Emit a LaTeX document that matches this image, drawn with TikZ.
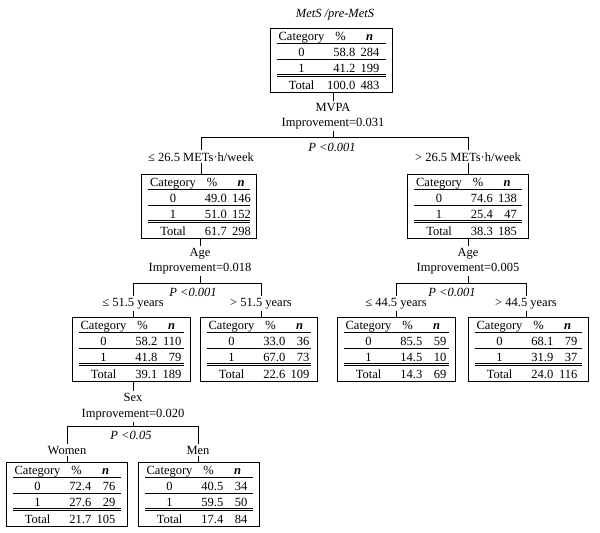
\documentclass[tikz,border=0pt]{standalone}
\usepackage{fontspec}
\setmainfont{Liberation Serif}
\newcommand{\fs}{\fontsize{12.5}{14}\selectfont}
\newcommand{\ctab}[9]{%
  \node[tbox, minimum width=#3pt] (#1) at (#2) {};
  \begin{scope}[shift={(#1.north west)}]
    \node[anchor=base] (#1-hc) at (32,12.5) {Category};
    \node[anchor=base] (#1-hp) at (71,12.5) {\%};
    \node[anchor=base] (#1-hn) at (100,12.5) {\bfseries\itshape n};
    \draw[rule] (7,15.5) -- (#3-6,15.5);
    \node[anchor=base] (#1-c0) at (32,28) {0};
    \node[anchor=base east] (#1-p0) at (86,28) {#4};
    \node[anchor=base east] (#1-n0) at (110,28) {#5};
    \draw[rule] (7,31.5) -- (#3-6,31.5);
    \node[anchor=base] (#1-c1) at (32,44) {1};
    \node[anchor=base east] (#1-p1) at (86,44) {#6};
    \node[anchor=base east] (#1-n1) at (110,44) {#7};
    \draw[rule] (7,46.4) -- (#3-6,46.4);
    \draw[rule] (7,48.8) -- (#3-6,48.8);
    \node[anchor=base] (#1-ct) at (32,61) {Total};
    \node[anchor=base east] (#1-pt) at (86,61) {#8};
    \node[anchor=base east] (#1-nt) at (110,61) {#9};
  \end{scope}}
\begin{document}
\begin{tikzpicture}[x=1pt,y=-1pt,
  every node/.style={font=\fs, inner sep=0pt},
  tbox/.style={draw, line width=0.9pt, minimum height=64pt, inner sep=0pt, anchor=north},
  lab/.style={anchor=base, inner sep=1.8pt},
  conn/.style={line width=0.8pt},
  rule/.style={line width=0.7pt}]
\useasboundingbox (0,0) rectangle (600,533);

% ---------- root ----------
\node[lab, font=\fs\itshape] (title) at (335,17) {MetS /pre-MetS};
\ctab{root}{331,28}{122}{58.8}{284}{41.2}{199}{100.0}{483}
\node[lab] (mvpa) at (333,111) {MVPA};
\node[lab] (imp0) at (333,126) {Improvement=0.031};
\coordinate (s0) at (333,137);
\node[lab, font=\fs\itshape] (p0) at (332,151) {P <0.001};
\node[lab] (b0l) at (201,161) {≤ 26.5 METs·h/week};
\node[lab] (b0r) at (468,161) {> 26.5 METs·h/week};
\ctab{l2l}{199,174}{115}{49.0}{146}{51.0}{152}{61.7}{298}
\ctab{l2r}{468,174}{121}{74.6}{138}{25.4}{47}{38.3}{185}
\draw[conn] (root.south -| mvpa) -- (mvpa.north);
\draw[conn] (imp0.south) -- (s0);
\draw[conn] (b0l.north) -- (b0l.north |- s0) -- (b0r.north |- s0) -- (b0r.north);
\draw[conn] (b0l.south) -- (l2l.north -| b0l);
\draw[conn] (b0r.south) -- (l2r.north -| b0r);

% ---------- left level 2 split ----------
\node[lab] (agel) at (200,256) {Age};
\node[lab] (impl) at (200,271) {Improvement=0.018};
\coordinate (sl) at (200,283);
\node[lab, font=\fs\itshape] (pl) at (193,296) {P <0.001};
\node[lab] (bll) at (133,306) {≤ 51.5 years};
\node[lab] (blr) at (261,306) {> 51.5 years};
\ctab{a}{131,317}{118}{58.2}{110}{41.8}{79}{39.1}{189}
\ctab{b}{258.5,317}{117}{33.0}{36}{67.0}{73}{22.6}{109}
\draw[conn] (l2l.south -| agel) -- (agel.north);
\draw[conn] (impl.south) -- (sl);
\draw[conn] (bll.north) -- (bll.north |- sl) -- (blr.north |- sl) -- (blr.north);
\draw[conn] (bll.south) -- (a.north -| bll);
\draw[conn] (blr.south) -- (b.north -| blr);

% ---------- right level 2 split ----------
\node[lab] (ager) at (468,256) {Age};
\node[lab] (impr) at (468,271) {Improvement=0.005};
\coordinate (sr) at (468,283);
\node[lab, font=\fs\itshape] (pr) at (452,296) {P <0.001};
\node[lab] (brl) at (396,306) {≤ 44.5 years};
\node[lab] (brr) at (526,306) {> 44.5 years};
\ctab{c}{396,317}{118}{85.5}{59}{14.5}{10}{14.3}{69}
\ctab{d}{528,317}{120}{68.1}{79}{31.9}{37}{24.0}{116}
\draw[conn] (l2r.south -| ager) -- (ager.north);
\draw[conn] (impr.south) -- (sr);
\draw[conn] (brl.north) -- (brl.north |- sr) -- (brr.north |- sr) -- (brr.north);
\draw[conn] (brl.south) -- (c.north -| brl);
\draw[conn] (brr.south) -- (d.north -| brr);

% ---------- sex split ----------
\node[lab] (sex) at (133,401) {Sex};
\node[lab] (imps) at (133,417) {Improvement=0.020};
\coordinate (ss) at (133,426);
\node[lab, font=\fs\itshape] (ps) at (131,439) {P <0.05};
\node[lab] (bw) at (67,454) {Women};
\node[lab] (bm) at (198,454) {Men};
\ctab{w}{66.5,462}{121}{72.4}{76}{27.6}{29}{21.7}{105}
\ctab{m}{198.5,462}{121}{40.5}{34}{59.5}{50}{17.4}{84}
\draw[conn] (a.south -| sex) -- (sex.north);
\draw[conn] (imps.south) -- (ss);
\draw[conn] (bw.north) -- (bw.north |- ss) -- (bm.north |- ss) -- (bm.north);
\draw[conn] (bw.south) -- (w.north -| bw);
\draw[conn] (bm.south) -- (m.north -| bm);
\end{tikzpicture}
\end{document}
